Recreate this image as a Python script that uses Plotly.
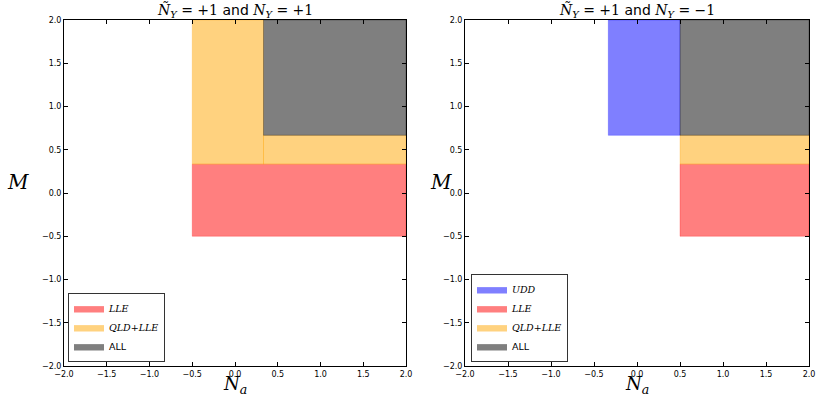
import plotly.graph_objects as go

# Region bounds: lists of rectangles (Na_min, Na_max, M_min, M_max)
left_LLE = [(-0.5, 2.0, -0.5, 1/3)]
left_QLD_LLE = [(-0.5, 1/3, 1/3, 2.0), (1/3, 2.0, 1/3, 2/3)]
left_ALL = [(1/3, 2.0, 2/3, 2.0)]

right_UDD = [(-1/3, 0.5, 2/3, 2.0)]
right_LLE = [(0.5, 2.0, -0.5, 1/3)]
right_QLD_LLE = [(0.5, 2.0, 1/3, 2/3)]
right_ALL = [(0.5, 2.0, 2/3, 2.0)]

tick_vals = [-2.0, -1.5, -1.0, -0.5, 0.0, 0.5, 1.0, 1.5, 2.0]
tick_text = ["\u22122.0", "\u22121.5", "\u22121.0", "\u22120.5", "0.0", "0.5", "1.0", "1.5", "2.0"]

SERIF = "DejaVu Serif"
SANS = "DejaVu Sans"

titles = [f"<i>\u00d1</i><sub><i>Y</i></sub> = +1 <span style='font-family:{SANS}'>and</span> <i>N</i><sub><i>Y</i></sub> = +1",
          f"<i>\u00d1</i><sub><i>Y</i></sub> = +1 <span style='font-family:{SANS}'>and</span> <i>N</i><sub><i>Y</i></sub> = \u22121"]

RED = "rgba(255,0,0,0.5)"
ORANGE = "rgba(255,165,0,0.5)"
GRAY = "rgba(0,0,0,0.5)"
BLUE = "rgba(0,0,255,0.5)"


def rect_xy(rects):
    xs, ys = [], []
    for (x0, x1, y0, y1) in rects:
        xs += [x0, x1, x1, x0, x0, None]
        ys += [y0, y0, y1, y1, y0, None]
    return xs, ys


def serif_name(s):
    return f"<span style='font-family:{SERIF};font-style:italic'>{s}</span>"


fig = go.Figure()

left_series = [(left_LLE, RED, serif_name("LLE")),
               (left_QLD_LLE, ORANGE, serif_name("QLD+LLE")),
               (left_ALL, GRAY, "ALL")]
right_series = [(right_UDD, BLUE, serif_name("UDD")),
                (right_LLE, RED, serif_name("LLE")),
                (right_QLD_LLE, ORANGE, serif_name("QLD+LLE")),
                (right_ALL, GRAY, "ALL")]

for rects, col, name in left_series:
    xs, ys = rect_xy(rects)
    fig.add_trace(go.Scatter(x=xs, y=ys, fill="toself", fillcolor=col, mode="lines",
                             line=dict(width=0.5, color=col), name=name,
                             xaxis="x", yaxis="y", legend="legend", hoverinfo="skip"))
for rects, col, name in right_series:
    xs, ys = rect_xy(rects)
    fig.add_trace(go.Scatter(x=xs, y=ys, fill="toself", fillcolor=col, mode="lines",
                             line=dict(width=0.5, color=col), name=name,
                             xaxis="x2", yaxis="y2", legend="legend2", hoverinfo="skip"))

W, H = 831, 397


def px(x):
    return x / W


def py(y):
    return 1 - y / H


axis_common = dict(range=[-2, 2], tickvals=tick_vals, ticktext=tick_text,
                   ticks="inside", ticklen=4, tickcolor="black", tickwidth=1,
                   showline=True, linecolor="black", linewidth=1, mirror="ticks",
                   showgrid=False, zeroline=False, automargin=False,
                   tickfont=dict(family=SANS, size=8, color="black"))

legend_common = dict(xanchor="left", yanchor="bottom", bgcolor="white", bordercolor="#333",
                     borderwidth=1, font=dict(family=SANS, size=9.5, color="black"),
                     tracegroupgap=0, itemwidth=30)

fig.update_layout(
    width=W, height=H,
    margin=dict(l=0, r=0, t=0, b=0, autoexpand=False),
    paper_bgcolor="white", plot_bgcolor="white",
    xaxis=dict(domain=[px(64), px(406)], anchor="y", **axis_common),
    yaxis=dict(domain=[py(366), py(20)], anchor="x", **axis_common),
    xaxis2=dict(domain=[px(465), px(809)], anchor="y2", **axis_common),
    yaxis2=dict(domain=[py(366), py(20)], anchor="x2", **axis_common),
    legend=dict(x=px(68), y=py(362), **legend_common),
    legend2=dict(x=px(471), y=py(362), **legend_common),
    showlegend=True,
)

annotations = []
for i, (cxp, mx) in enumerate([(235, 18), (637, 441)]):
    annotations.append(dict(text=titles[i], x=px(cxp), y=py(11), xref="paper", yref="paper",
                            xanchor="center", yanchor="middle", showarrow=False,
                            font=dict(family=SERIF, size=14, color="black")))
    annotations.append(dict(text="<i>N</i><sub><i>a</i></sub>", x=px(cxp), y=py(385),
                            xref="paper", yref="paper", xanchor="center", yanchor="middle",
                            showarrow=False, borderpad=0,
                            font=dict(family=SERIF, size=18, color="black")))
    annotations.append(dict(text="<i>M</i>", x=px(mx), y=py(182),
                            xref="paper", yref="paper", xanchor="center", yanchor="middle",
                            showarrow=False, font=dict(family=SERIF, size=20, color="black")))
fig.update_layout(annotations=annotations)

fig.write_html("out.html",
               config={"displayModeBar": False, "staticPlot": True},
               post_script="document.body.style.margin='0';document.body.style.overflow='hidden';")
